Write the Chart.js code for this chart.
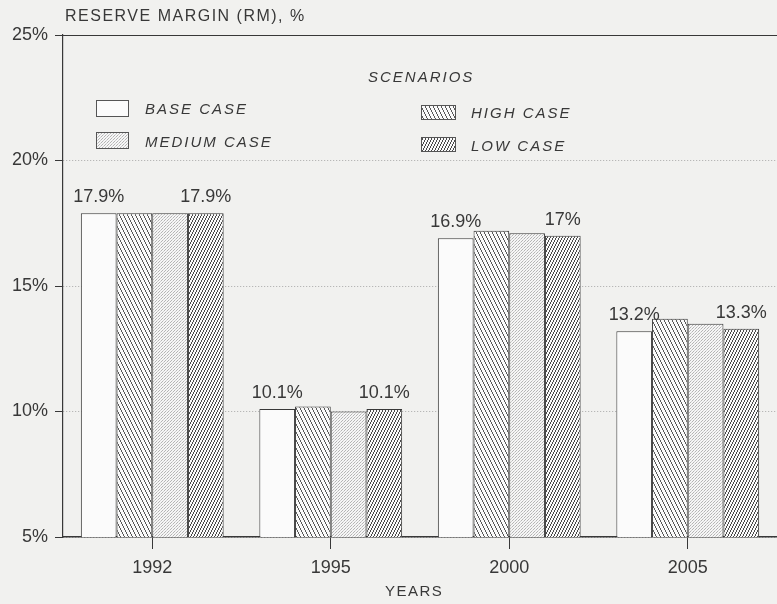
<!DOCTYPE html>
<html>
<head>
<meta charset="utf-8">
<script src="https://cdn.jsdelivr.net/npm/chart.js@4/dist/chart.umd.min.js"></script>
<style>
html,body{margin:0;padding:0;background:#f1f1ef;overflow:hidden;}
#wrap{width:777px;height:604px;position:relative;}
</style>
</head>
<body>
<div id="wrap"><canvas id="rmChart"></canvas></div>
<script>

/* data */

const years = ["1992", "1995", "2000", "2005"];
const baseCase = [17.9, 10.1, 16.9, 13.2];
const highCase = [17.9, 10.2, 17.2, 13.7];
const mediumCase = [17.9, 10.0, 17.1, 13.5];
const lowCase = [17.9, 10.1, 17, 13.3];
const yTicks = [5, 10, 15, 20, 25];

const seriesNames = ["BASE CASE", "HIGH CASE", "MEDIUM CASE", "LOW CASE"];

const ink = "#383838";
const font = "'Liberation Sans', Arial, sans-serif";


/* fill patterns, drawn pixel by pixel so the hatch stays crisp */

function makePattern(kind){
let c = document.createElement("canvas");
let g = c.getContext("2d");
if(kind == "medium"){
c.width = 3; c.height = 3;
g.fillStyle = "#f6f6f6";
g.fillRect(0,0,3,3);
g.fillStyle = "#b4b4b4";
g.fillRect(0,0,1,1);
g.fillRect(2,1,1,1);
g.fillStyle = "#cfcfcf";
g.fillRect(1,2,1,1);
return g.createPattern(c,"repeat");
}
let w = kind == "high" ? 4 : 3;
let h = w * 2;
c.width = w; c.height = h;
g.fillStyle = "#fafafa";
g.fillRect(0,0,w,h);
g.fillStyle = kind == "high" ? "#5a5a5a" : "#4a4a4a";
for(let y = 0; y < h; y++){
let x = Math.floor(y/2);
if(kind == "low") x = w - 1 - x;
g.fillRect(x,y,1,1);
}
return g.createPattern(c,"repeat");
}

const fills = [
"#fbfbfb",
makePattern("high"),
makePattern("medium"),
makePattern("low")
];


/* extra drawing: titles, top line, value labels, legend */

const extras = {
id:"extras",
afterDatasetsDraw(chart){
let ctx = chart.ctx;
let y = chart.scales.y;
let area = chart.chartArea;

ctx.save();

// top line at 25%
let top = Math.round(y.getPixelForValue(25)) + 0.5;
ctx.strokeStyle = ink;
ctx.lineWidth = 1;
ctx.beginPath();
ctx.moveTo(area.left, top);
ctx.lineTo(area.right, top);
ctx.stroke();

// axis titles
ctx.fillStyle = ink;
ctx.font = "16px " + font;
ctx.letterSpacing = "1.5px";
ctx.textBaseline = "middle";
ctx.textAlign = "left";
ctx.fillText("RESERVE MARGIN (RM), %", 65, 17);

ctx.font = "15px " + font;
ctx.letterSpacing = "1.5px";
ctx.fillText("YEARS", 385, 592);

// value labels on base and low bars
ctx.font = "18px " + font;
ctx.letterSpacing = "0px";
ctx.textAlign = "center";
ctx.textBaseline = "bottom";
[0,3].forEach(di => {
let meta = chart.getDatasetMeta(di);
meta.data.forEach((bar,i) => {
ctx.fillText(chart.data.datasets[di].data[i] + "%", bar.x, bar.y - 7);
});
});

// legend
ctx.font = "italic 15px " + font;
ctx.letterSpacing = "2px";
ctx.textAlign = "left";
ctx.textBaseline = "middle";
ctx.fillText("SCENARIOS", 368, 78);

let spots = [
{bx:96, by:100, bw:32, bh:16, tx:145, ty:110},
{bx:421, by:105, bw:34, bh:14, tx:471, ty:114},
{bx:96, by:132, bw:32, bh:16, tx:145, ty:143},
{bx:421, by:137, bw:34, bh:14, tx:471, ty:147}
];
spots.forEach((p,i) => {
ctx.fillStyle = fills[i];
ctx.fillRect(p.bx, p.by, p.bw, p.bh);
ctx.strokeStyle = "#555";
ctx.strokeRect(p.bx + 0.5, p.by + 0.5, p.bw, p.bh);
ctx.fillStyle = ink;
ctx.fillText(seriesNames[i], p.tx, p.ty);
});

ctx.restore();
}
};


/* chart */

new Chart(document.getElementById("rmChart"),{

type:"bar",

data:{
labels:years,
datasets:[
{label:seriesNames[0], data:baseCase, backgroundColor:fills[0]},
{label:seriesNames[1], data:highCase, backgroundColor:fills[1]},
{label:seriesNames[2], data:mediumCase, backgroundColor:fills[2]},
{label:seriesNames[3], data:lowCase, backgroundColor:fills[3]}
]
},

options:{
responsive:true,
maintainAspectRatio:false,
animation:false,
layout:{padding:{top:35, left:0, right:0, bottom:0}},
datasets:{bar:{
categoryPercentage:0.8,
barPercentage:1,
borderColor:ink,
borderWidth:1,
borderSkipped:"bottom"
}},
plugins:{
legend:{display:false},
tooltip:{enabled:false}
},
scales:{
x:{
afterFit(s){ s.height = 67; },
grid:{
offset:false,
drawOnChartArea:false,
tickLength:12,
color:ink,
tickColor:ink
},
border:{color:ink, width:1.5},
ticks:{
color:ink,
padding:8,
font:{family:font, size:18}
}
},
y:{
min:5,
max:25,
afterFit(s){ s.width = 63; },
afterBuildTicks(s){ s.ticks = yTicks.map(v => ({value:v})); },
grid:{
color:"#a9a9a9",
lineWidth:1,
tickLength:8,
tickColor:ink,
tickBorderDash:[]
},
border:{color:ink, width:1.2, dash:[1,2]},
ticks:{
color:ink,
padding:7,
font:{family:font, size:18},
callback:v => v + "%"
}
}
}
},

plugins:[extras]

});

</script>
</body>
</html>
